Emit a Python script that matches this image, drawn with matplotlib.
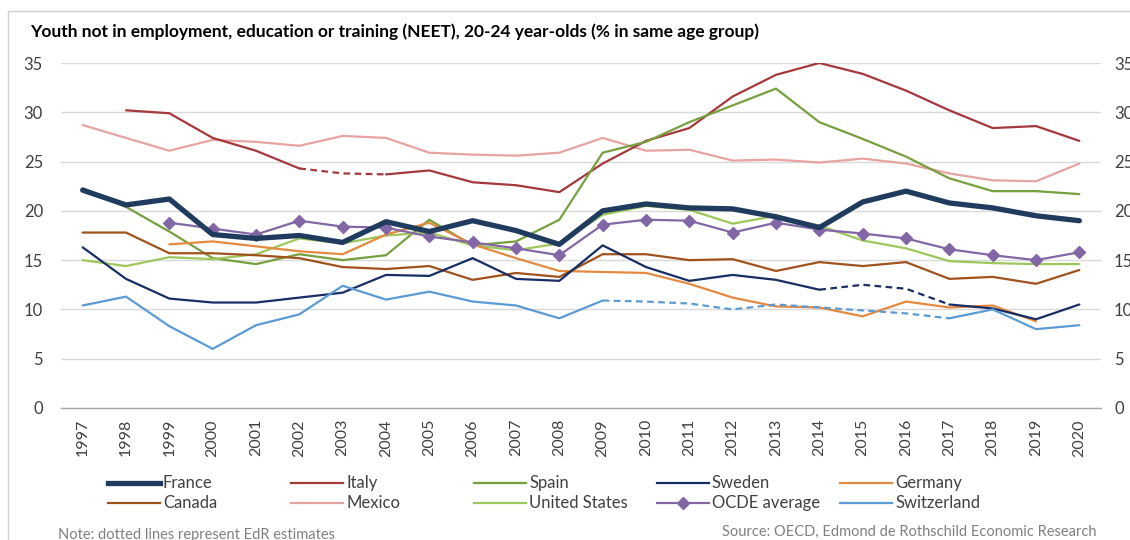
import numpy as np
import matplotlib
matplotlib.use('Agg')
import matplotlib.pyplot as plt
from matplotlib.lines import Line2D
from matplotlib.patches import Rectangle
from matplotlib.transforms import ScaledTranslation

plt.rcParams['font.family'] = ['Lato', 'DejaVu Sans']

nan = np.nan
years = list(range(1997, 2021))

france = [22.1, 20.6, 21.2, 17.6, 17.2, 17.5, 16.8, 18.9, 17.9, 19.0, 18.0, 16.6,
          20.0, 20.7, 20.3, 20.2, 19.4, 18.3, 20.9, 22.0, 20.8, 20.3, 19.5, 19.0]
italy = [nan, 30.2, 29.9, 27.4, 26.1, 24.3, 23.8, 23.7, 24.1, 22.9, 22.6, 21.9,
         24.8, 27.1, 28.4, 31.6, 33.8, 35.0, 33.9, 32.2, 30.2, 28.4, 28.6, 27.1]
spain = [22.3, 20.4, 17.9, 15.2, 14.6, 15.6, 15.0, 15.5, 19.1, 16.5, 16.9, 19.1,
         25.9, 27.0, 29.0, 30.7, 32.4, 29.0, 27.3, 25.5, 23.3, 22.0, 22.0, 21.7]
sweden = [16.3, 13.1, 11.1, 10.7, 10.7, 11.2, 11.7, 13.5, 13.4, 15.2, 13.1, 12.9,
          16.5, 14.3, 12.9, 13.5, 13.0, 12.0, 12.5, 12.1, 10.5, 10.1, 9.0, 10.5]
germany = [nan, nan, 16.6, 16.9, 16.4, 15.9, 15.6, 17.6, 18.8, 16.6, 15.2, 13.9,
           13.8, 13.7, 12.6, 11.2, 10.3, 10.2, 9.3, 10.8, 10.2, 10.4, 8.8, nan]
canada = [17.8, 17.8, 15.7, 15.7, 15.5, 15.2, 14.3, 14.1, 14.4, 13.0, 13.7, 13.3,
          15.6, 15.6, 15.0, 15.1, 13.9, 14.8, 14.4, 14.8, 13.1, 13.3, 12.6, 14.0]
mexico = [28.7, 27.4, 26.1, 27.2, 27.0, 26.6, 27.6, 27.4, 25.9, 25.7, 25.6, 25.9,
          27.4, 26.1, 26.2, 25.1, 25.2, 24.9, 25.3, 24.8, 23.8, 23.1, 23.0, 24.8]
united_states = [15.0, 14.4, 15.3, 15.1, 15.6, 17.2, 16.7, 17.5, 17.8, 16.5, 16.0, 16.7,
                 19.6, 20.5, 20.1, 18.7, 19.5, 18.5, 17.0, 16.2, 14.9, 14.7, 14.6, 14.6]
ocde = [nan, nan, 18.8, 18.2, 17.6, 19.0, 18.4, 18.3, 17.4, 16.8, 16.2, 15.5,
        18.6, 19.1, 19.0, 17.8, 18.8, 18.1, 17.7, 17.2, 16.1, 15.5, 15.0, 15.8]
switzerland = [10.4, 11.3, 8.3, 6.0, 8.4, 9.5, 12.4, 11.0, 11.8, 10.8, 10.4, 9.1,
               10.9, 10.8, 10.6, 10.0, 10.5, 10.2, 9.9, 9.6, 9.1, 10.0, 8.0, 8.4]

# EdR estimates (drawn dashed): first and last year of each dashed stretch
estimates = {'Italy': (2002, 2004), 'Sweden': (2014, 2017), 'Switzerland': (2009, 2017)}

series = [
    ('France', france, '#1F3B5E', 3.8, None),
    ('Italy', italy, '#A5383B', 1.6, None),
    ('Spain', spain, '#76A03E', 1.6, None),
    ('Sweden', sweden, '#182D66', 1.6, None),
    ('Germany', germany, '#E48A40', 1.6, None),
    ('Canada', canada, '#A0521C', 1.6, None),
    ('Mexico', mexico, '#E6A3A2', 1.6, None),
    ('United States', united_states, '#9DC75A', 1.6, None),
    ('OCDE average', ocde, '#8366A6', 1.6, 'D'),
    ('Switzerland', switzerland, '#5B9BD5', 1.6, None),
]

fig = plt.figure(figsize=(11.3, 5.4), dpi=100)
ax = fig.add_axes([61 / 1130, 1 - 408 / 540, 1040 / 1130, 345 / 540])

x = np.array(years)
draw_order = [6, 1, 2, 7, 4, 5, 3, 9, 8, 0]
for i in draw_order:
    name, vals, col, lw, mk = series[i]
    y = np.array(vals, dtype=float)
    if name in estimates:
        a, b = estimates[name]
        solid1 = np.where(x <= a, y, nan)
        dash = np.where((x >= a) & (x <= b), y, nan)
        solid2 = np.where(x >= b, y, nan)
        ax.plot(x, solid1, color=col, lw=lw, solid_capstyle='round')
        ax.plot(x, dash, color=col, lw=lw, ls=(0, (3, 2)))
        ax.plot(x, solid2, color=col, lw=lw, solid_capstyle='round')
    else:
        ax.plot(x, y, color=col, lw=lw, marker=mk, ms=6.5, solid_capstyle='round')

ax.set_xlim(1996.5, 2020.5)
ax.set_ylim(0, 35)
ax.set_yticks(range(0, 36, 5))
ax.set_xticks(years)
ax.set_xticklabels([str(yr) for yr in years], rotation=90)
ax.tick_params(axis='y', length=0, pad=13, labelsize=12, colors='#404040', labelright=True)
ax.tick_params(axis='x', length=0, pad=8, labelsize=11.5, colors='#404040')
ax.grid(axis='y', color='#D9D9D9', lw=1)
ax.set_axisbelow(True)
for s in ['top', 'left', 'right']:
    ax.spines[s].set_visible(False)
ax.spines['bottom'].set_color('#A6A6A6')
ax.spines['bottom'].set_linewidth(1)

# right-hand labels sit a little closer to the plot than the left ones
shift = ScaledTranslation(-5 / 100, 0, fig.dpi_scale_trans)
for t in ax.yaxis.get_major_ticks():
    t.label2.set_transform(t.label2.get_transform() + shift)

# chart border (left and top edges visible)
fig.add_artist(Rectangle((8 / 1130, -0.5), 2, 0.5 + (1 - 11 / 540), transform=fig.transFigure,
                         fill=False, edgecolor='#D0D0D0', lw=1))

fig.text(30 / 1130, 1 - 32 / 540,
         'Youth not in employment, education or training (NEET), 20-24 year-olds (% in same age group)',
         fontsize=12.5, fontweight='bold', va='center', ha='left', color='#000000')

# legend laid out in Excel style: fixed width columns
for i, (name, vals, col, lw, mk) in enumerate(series):
    c, r = i % 5, i // 5
    x0 = (108 + c * 183) / 1130
    y0 = 1 - (483 + r * 20) / 540
    fig.add_artist(Line2D([x0, x0 + 52 / 1130], [y0, y0], transform=fig.transFigure,
                          color=col, lw=lw))
    if mk:
        fig.add_artist(Line2D([x0 + 26 / 1130], [y0], transform=fig.transFigure,
                              color=col, marker=mk, ms=6.5))
    fig.text(x0 + 55 / 1130, y0, name, fontsize=12, va='center', ha='left', color='#404040')

fig.text(58 / 1130, 1 - 535 / 540, 'Note: dotted lines represent EdR estimates',
         fontsize=10.5, color='#808080', va='center', ha='left')
fig.text(1097 / 1130, 1 - 532 / 540, 'Source: OECD, Edmond de Rothschild Economic Research',
         fontsize=10.5, color='#808080', va='center', ha='right')

fig.savefig('out.png', dpi=100)
